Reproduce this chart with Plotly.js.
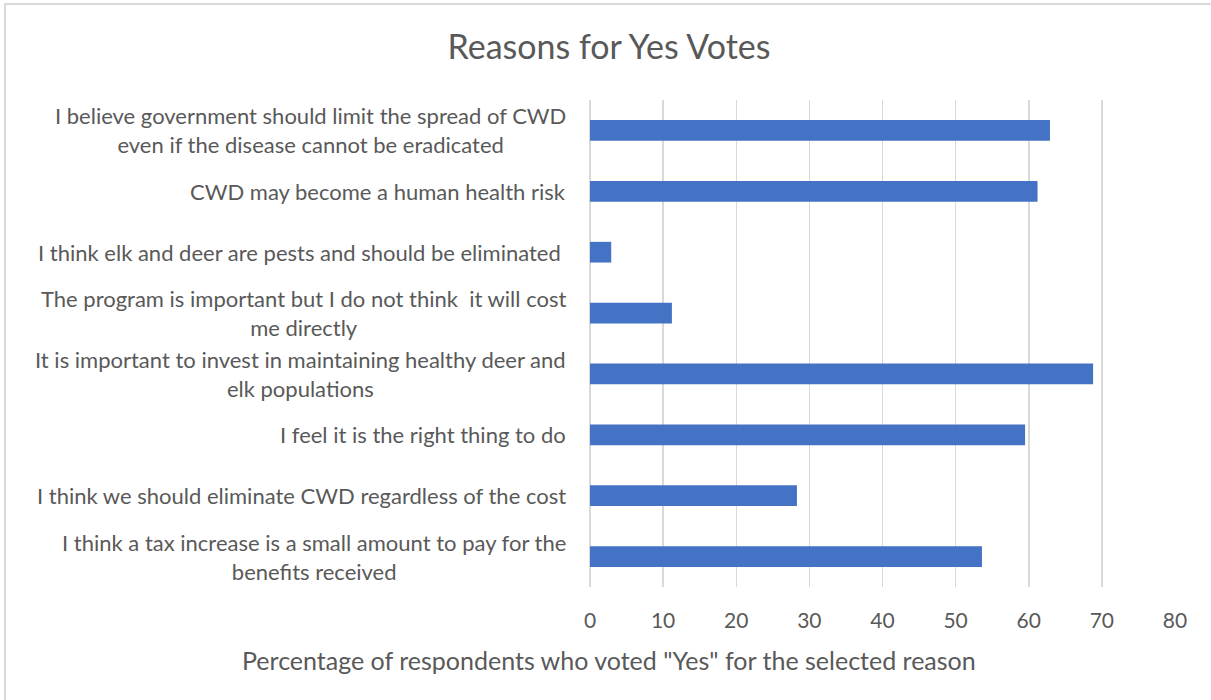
<!DOCTYPE html>
<html>
<head>
<meta charset="utf-8">
<script src="https://cdn.plot.ly/plotly-3.0.1.min.js"></script>
<style>
  html, body { margin: 0; padding: 0; background: #fff; }
  #chart { width: 1211px; height: 700px; position: absolute; left: 0; top: 0; }
  #bl { position: absolute; left: 4px; top: 3px; width: 2px; height: 697px; background: #d9d9d9; }
  #bt { position: absolute; left: 4px; top: 3px; width: 1207px; height: 2px; background: #d9d9d9; }
</style>
</head>
<body>
<div id="chart"></div>
<div id="bl"></div>
<div id="bt"></div>
<script>
const categories = [
  "I believe government should limit the spread of CWD<br>even if the disease cannot be eradicated",
  "CWD may become a human health risk",
  "I think elk and deer are pests and should be eliminated ",
  "The program is important but I do not think  it will cost<br>me directly",
  "It is important to invest in maintaining healthy deer and<br>elk populations",
  "I feel it is the right thing to do",
  "I think we should eliminate CWD regardless of the cost",
  "I think a tax increase is a small amount to pay for the<br>benefits received"
];
const values = [62.9, 61.2, 2.9, 11.2, 68.8, 59.5, 28.3, 53.6];
const xTicks = [0, 10, 20, 30, 40, 50, 60, 70, 80];
const chartTitle = "Reasons for Yes Votes";
const xTitle = 'Percentage of respondents who voted "Yes" for the selected reason';

const FONT = "Lato, 'Open Sans', sans-serif";
const GREY = "#595959";

const trace = {
  type: "bar",
  orientation: "h",
  x: values,
  y: categories,
  width: 0.34,
  marker: { color: "#4472C4" },
  hoverinfo: "x+y"
};

const annotations = categories.map(c => ({
  xref: "paper", yref: "y",
  x: 0, y: c,
  xanchor: "right", yanchor: "middle",
  xshift: -22,
  text: c, align: "center",
  showarrow: false,
  font: { family: FONT, size: 22, color: GREY }
}));
annotations.push({
  xref: "paper", yref: "paper",
  x: (609 - 590) / 585, y: 0,
  xanchor: "center", yanchor: "middle",
  yshift: -73,
  text: xTitle, showarrow: false,
  font: { family: FONT, size: 25, color: GREY }
});

const layout = {
  width: 1211, height: 700,
  margin: { l: 590, r: 36, t: 100, b: 113 },
  paper_bgcolor: "#fff", plot_bgcolor: "#fff",
  showlegend: false,
  title: {
    text: chartTitle,
    x: 609 / 1211, xref: "container", xanchor: "center",
    y: 1 - 47 / 700, yref: "container", yanchor: "middle",
    font: { family: FONT, size: 34, color: GREY }
  },
  xaxis: {
    range: [0, 80],
    tickvals: xTicks,
    ticktext: xTicks.map(String),
    showgrid: true, gridcolor: "#d9d9d9", gridwidth: 1.5,
    zeroline: true, zerolinecolor: "#d9d9d9", zerolinewidth: 1.5,
    showline: false,
    ticks: "", ticklabelstandoff: 19,
    tickfont: { family: FONT, size: 21, color: GREY },
    fixedrange: true
  },
  yaxis: {
    type: "category",
    categoryorder: "array", categoryarray: categories,
    autorange: "reversed",
    showticklabels: false,
    showgrid: false, zeroline: false, showline: false, ticks: "",
    fixedrange: true
  },
  annotations: annotations
};

Plotly.newPlot("chart", [trace], layout, { displayModeBar: false, staticPlot: true });
</script>
</body>
</html>
